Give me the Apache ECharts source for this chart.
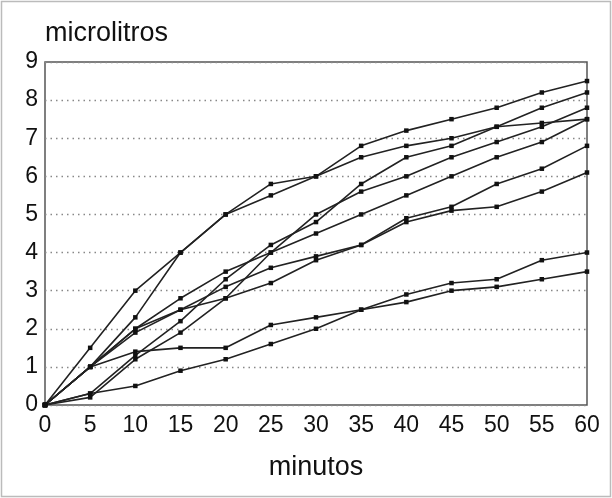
<!DOCTYPE html>
<html>
<head>
<meta charset="utf-8">
<script src="https://cdn.jsdelivr.net/npm/echarts@6/dist/echarts.min.js"></script>
<style>
html,body{margin:0;padding:0;background:#fff;}
#c{width:612px;height:498px;}
</style>
</head>
<body>
<div id="c"></div>
<script>
const minutes = [0,5,10,15,20,25,30,35,40,45,50,55,60];
const xTicks = [0,5,10,15,20,25,30,35,40,45,50,55,60];
const yTicks = [0,1,2,3,4,5,6,7,8,9];
const serieA = [0,1.5,3.0,4.0,5.0,5.8,6.0,6.8,7.2,7.5,7.8,8.2,8.5];
const serieB = [0,1.0,2.3,4.0,5.0,5.5,6.0,6.5,6.8,7.0,7.3,7.4,7.5];
const serieC = [0,1.0,1.4,1.5,1.5,2.1,2.3,2.5,2.9,3.2,3.3,3.8,4.0];
const serieD = [0,0.3,0.5,0.9,1.2,1.6,2.0,2.5,2.7,3.0,3.1,3.3,3.5];
const serieE = [0,0.3,1.3,2.2,3.3,4.2,4.8,5.8,6.5,6.8,7.3,7.8,8.2];
const serieF = [0,0.2,1.2,1.9,2.8,4.0,5.0,5.6,6.0,6.5,6.9,7.3,7.8];
const serieG = [0,1.0,2.0,2.8,3.5,4.0,4.5,5.0,5.5,6.0,6.5,6.9,7.5];
const serieH = [0,1.0,2.0,2.5,3.1,3.6,3.9,4.2,4.9,5.2,5.8,6.2,6.8];
const serieI = [0,1.0,1.9,2.5,2.8,3.2,3.8,4.2,4.8,5.1,5.2,5.6,6.1];
const allSeries = [serieA,serieB,serieC,serieD,serieE,serieF,serieG,serieH,serieI];

const font = '"Liberation Sans", Arial, Helvetica, sans-serif';
const chart = echarts.init(document.getElementById('c'), null, {renderer:'canvas'});
chart.setOption({
  animation:false,
  backgroundColor:'#fff',
  graphic:[{type:'rect', shape:{x:1.5,y:1.5,width:609,height:495}, style:{fill:'none', stroke:'#bbb', lineWidth:1.5}}],
  grid:{left:45, right:25, top:62, bottom:93, show:true, borderColor:'#555', borderWidth:1.5, backgroundColor:'transparent'},
  xAxis:{
    type:'value', min:xTicks[0], max:xTicks[xTicks.length-1], interval:5,
    name:'minutos', nameLocation:'middle', nameGap:49,
    nameTextStyle:{fontFamily:font, fontSize:27, color:'#111'},
    axisLine:{show:false}, axisTick:{show:false}, splitLine:{show:false},
    axisLabel:{fontFamily:font, fontSize:23, color:'#111', margin:9}
  },
  yAxis:{
    type:'value', min:yTicks[0], max:yTicks[yTicks.length-1], interval:1,
    name:'microlitros', nameLocation:'end', nameGap:28,
    nameTextStyle:{fontFamily:font, fontSize:27, color:'#111', align:'left', verticalAlign:'middle'},
    axisLine:{show:false}, axisTick:{show:false},
    splitLine:{show:true, lineStyle:{type:[1.5,4], color:'#888', width:1.3}},
    axisLabel:{fontFamily:font, fontSize:23, color:'#111', margin:7}
  },
  series: allSeries.map(s => ({
    type:'line',
    data: minutes.map((m,i)=>[m,s[i]]),
    symbol:'rect', symbolSize:4.5, showSymbol:true,
    itemStyle:{color:'#111'},
    lineStyle:{color:'#222', width:1.6},
    silent:true
  }))
});
</script>
</body>
</html>
